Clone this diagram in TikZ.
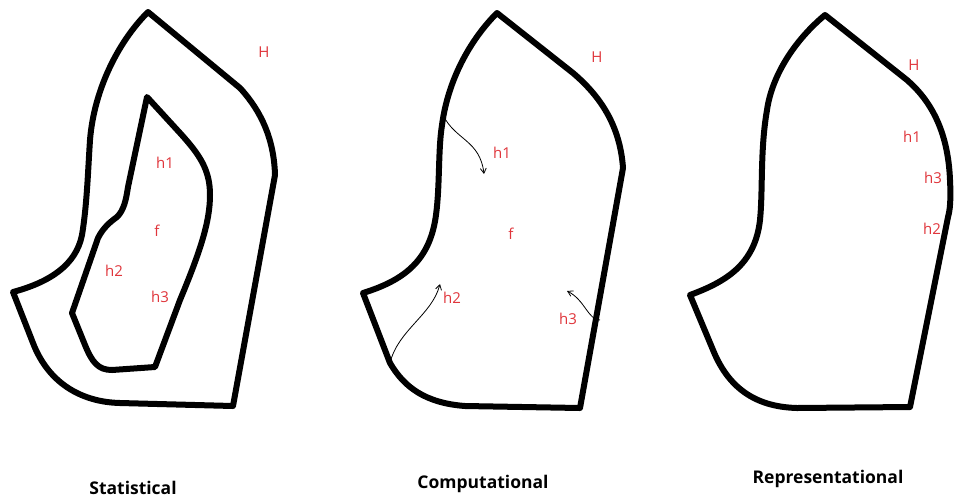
\documentclass[tikz,border=0pt]{standalone}
\usepackage{fontspec}
\setmainfont{Open Sans}
\usetikzlibrary{arrows.meta}
\definecolor{cred}{HTML}{E0363C}
\definecolor{cblack}{HTML}{000000}
\tikzset{
  every picture/.style={x=1pt, y=-1pt},
  outline/.style={draw=cblack, line width=6pt, line join=round},
  lbl/.style={text=cred, font=\fontsize{15}{17}\selectfont, inner sep=0pt},
  title/.style={font=\bfseries\fontsize{17.5}{20}\selectfont, inner sep=0pt},
  arrow/.style={-{Straight Barb[length=5pt, width=6pt]}, draw=cblack, line width=0.8pt},
}

\begin{document}
\begin{tikzpicture}
  \useasboundingbox[fill=white] (0,0) rectangle (960,499);
  % statistical
  \draw[outline] (148,12) -- (240,88) .. controls (262,112) and (274,140) .. (275,175)
    -- (233,406) -- (120,403) .. controls (80,402) and (48,382) .. (33,343) -- (13,292)
    .. controls (50,282) and (76,265) .. (82,235) .. controls (87,205) and (88,170) .. (90,140)
    .. controls (94,90) and (118,42) .. (148,12) -- cycle;
  \draw[outline] (147,97) -- (180,133) .. controls (200,155) and (210,170) .. (210,195)
    .. controls (210,222) and (200,252) .. (180,300) -- (155,367) -- (112,370)
    .. controls (98,370) and (92,362) .. (85,345) -- (72,313) -- (98,238)
    .. controls (103,228) and (110,222) .. (117,217) .. controls (124,210) and (126,200) .. (128,187)
    -- cycle;
  \node[lbl] (sH) at (264,52) {H};
  \node[lbl] (sh1) at (165,163) {h1};
  \node[lbl] (sf) at (157,231) {f};
  \node[lbl] (sh2) at (114,271) {h2};
  \node[lbl] (sh3) at (160,297) {h3};
  \node[title] (stat) at (133,488) {Statistical};
  % computational
  \draw[outline] (497,13) -- (573,73) .. controls (600,96) and (620,125) .. (623,168)
    -- (580,408) -- (465,406) .. controls (425,403) and (404,387) .. (390,363) -- (363,293)
    .. controls (405,280) and (430,260) .. (436,215) .. controls (440,185) and (438,150) .. (442,125)
    .. controls (448,80) and (470,40) .. (497,13) -- cycle;
  \node[lbl] (cH) at (597,57) {H};
  \node[lbl] (ch1) at (502,153) {h1};
  \node[lbl] (cf) at (511,234) {f};
  \node[lbl] (ch2) at (452,298) {h2};
  \node[lbl] (ch3) at (568,319) {h3};
  \coordinate (a1) at (443,115);
  \coordinate (b1) at (484,174);
  \coordinate (a2) at (390,363);
  \coordinate (b2) at (440,284);
  \coordinate (a3) at (600,320);
  \coordinate (b3) at (567,291);
  \draw[arrow] (a1) .. controls (455,140) and (480,140) .. (b1);
  \draw[arrow] (a2) .. controls (398,330) and (432,315) .. (b2);
  \draw[arrow] (a3) .. controls (588,320) and (585,300) .. (b3);
  \node[title] (comp) at (483,484) {Computational};
  % representational
  \draw[outline] (825,15) -- (907,80) .. controls (930,100) and (948,130) .. (950,180)
    .. controls (951,200) and (950,210) .. (948,217) -- (910,407) -- (797,408)
    .. controls (760,407) and (730,392) .. (713,350) -- (690,295)
    .. controls (725,282) and (755,265) .. (760,220) .. controls (763,190) and (760,150) .. (767,110)
    .. controls (772,75) and (795,40) .. (825,15) -- cycle;
  \node[lbl] (rH) at (914,65) {H};
  \node[lbl] (rh1) at (912,137) {h1};
  \node[lbl] (rh3) at (933,178) {h3};
  \node[lbl] (rh2) at (932,229) {h2};
  \node[lbl] (rf) at (963,158) {f};
  \node[title] (repr) at (828,479) {Representational};
\end{tikzpicture}
\end{document}
